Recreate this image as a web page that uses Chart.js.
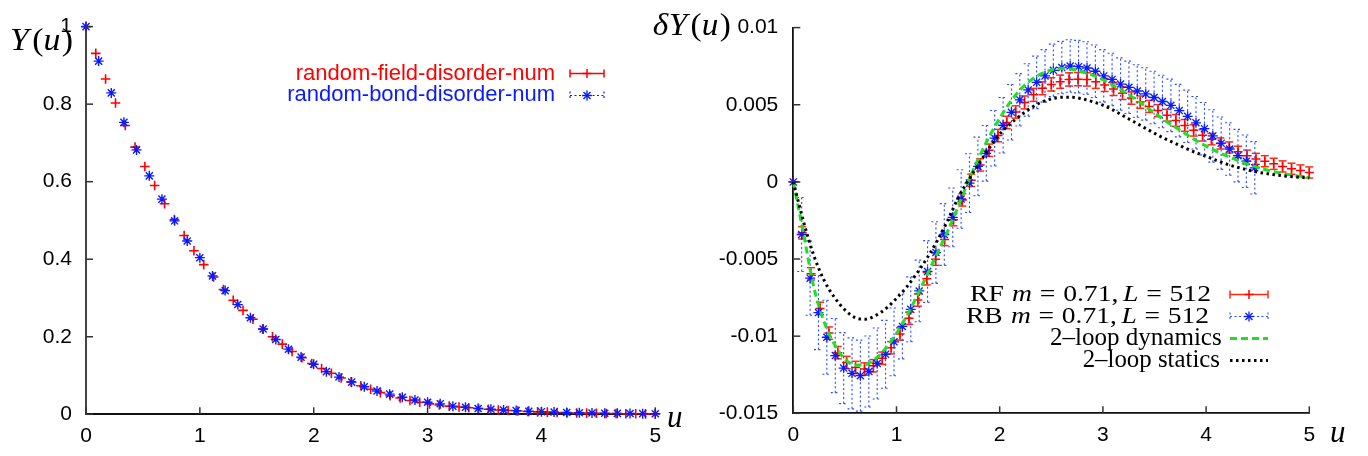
<!DOCTYPE html>
<html><head><meta charset="utf-8">
<script src="https://cdn.jsdelivr.net/npm/chart.js@4.4.1/dist/chart.umd.min.js"></script>
<style>
html,body{margin:0;padding:0;background:#fff;width:1368px;height:456px;overflow:hidden}
canvas{position:absolute;left:0;top:0}
</style></head><body>
<canvas id="cl" width="1368" height="456"></canvas>
<canvas id="cr" width="1368" height="456"></canvas>
<script>
// ---------- data ----------
const uRF = [0, 0.086, 0.172, 0.259, 0.345, 0.431, 0.517, 0.603, 0.690, 0.776,
  0.862, 0.948, 1.034, 1.121, 1.207, 1.293, 1.379, 1.466, 1.552, 1.638,
  1.724, 1.810, 1.897, 1.983, 2.069, 2.155, 2.241, 2.328, 2.414, 2.500,
  2.586, 2.672, 2.759, 2.845, 2.931, 3.017, 3.103, 3.190, 3.276, 3.362,
  3.448, 3.534, 3.621, 3.707, 3.793, 3.879, 3.966, 4.052, 4.138, 4.224,
  4.310, 4.397, 4.483, 4.569, 4.655, 4.741, 4.828, 4.914, 5.000];
const yRF = [1, 0.931, 0.865, 0.803, 0.745, 0.689, 0.639, 0.590, 0.543, 0.502,
  0.461, 0.422, 0.386, 0.354, 0.322, 0.294, 0.268, 0.245, 0.220, 0.200,
  0.181, 0.162, 0.146, 0.131, 0.118, 0.106, 0.0935, 0.0836, 0.0737, 0.0647,
  0.056, 0.048, 0.042, 0.0356, 0.031, 0.027, 0.024, 0.021, 0.019, 0.017,
  0.015, 0.013, 0.0112, 0.0097, 0.0085, 0.0073, 0.0063, 0.0055, 0.0047, 0.0041,
  0.0035, 0.0030, 0.0026, 0.0022, 0.0019, 0.0016, 0.0014, 0.0012, 0.0010];
const uRBleft = [0, 0.111, 0.222, 0.333, 0.444, 0.556, 0.667, 0.778, 0.889, 1.000,
  1.111, 1.222, 1.333, 1.444, 1.556, 1.667, 1.778, 1.889, 2.000, 2.111,
  2.222, 2.333, 2.444, 2.556, 2.667, 2.778, 2.889, 3.000, 3.111, 3.222,
  3.333, 3.444, 3.556, 3.667, 3.778, 3.889, 4.000, 4.111, 4.222, 4.333,
  4.444, 4.556, 4.667, 4.778, 4.889, 5.000];
const yRB = [1, 0.911, 0.829, 0.753, 0.682, 0.615, 0.555, 0.499, 0.447, 0.404,
  0.357, 0.319, 0.283, 0.249, 0.220, 0.193, 0.168, 0.1475, 0.129, 0.110,
  0.096, 0.083, 0.071, 0.060, 0.052, 0.044, 0.037, 0.031, 0.027, 0.021,
  0.018, 0.015, 0.013, 0.011, 0.0095, 0.0080, 0.0068, 0.0057, 0.0048, 0.0040,
  0.0034, 0.0029, 0.0024, 0.0020, 0.0017, 0.0014];

const dYRF = [0, -0.00330, -0.00596, -0.00820, -0.00980, -0.01107, -0.01171, -0.01203, -0.01213, -0.01192,
  -0.01143, -0.01075, -0.00986, -0.00884, -0.00766, -0.00628, -0.00501, -0.00373, -0.00245, -0.00117,
  0.00010, 0.00110, 0.00205, 0.00300, 0.00385, 0.00453, 0.00515, 0.00564, 0.00607, 0.00632,
  0.00649, 0.00664, 0.00666, 0.00664, 0.00649, 0.00628, 0.00602, 0.00575, 0.00543, 0.00517,
  0.00489, 0.00462, 0.00432, 0.00398, 0.00366, 0.00334, 0.00302, 0.00277, 0.00249, 0.00223,
  0.00195, 0.00170, 0.00149, 0.00134, 0.00117, 0.00100, 0.00085, 0.00074, 0.00061];
const dYRFerr = [0, 0.00040, 0.00040, 0.00040, 0.00040, 0.00040, 0.00040, 0.00040, 0.00040, 0.00040,
  0.00040, 0.00040, 0.00040, 0.00040, 0.00040, 0.00040, 0.00040, 0.00040, 0.00040, 0.00040,
  0.00040, 0.00040, 0.00040, 0.00040, 0.00040, 0.00040, 0.00042, 0.00042, 0.00042, 0.00043,
  0.00043, 0.00043, 0.00043, 0.00043, 0.00043, 0.00042, 0.00042, 0.00041, 0.00040, 0.00040,
  0.00039, 0.00039, 0.00038, 0.00038, 0.00038, 0.00037, 0.00037, 0.00037, 0.00036, 0.00036,
  0.00036, 0.00036, 0.00036, 0.00036, 0.00036, 0.00036, 0.00036, 0.00036, 0.00036];
const uRBright = [0, 0.081, 0.163, 0.244, 0.325, 0.407, 0.488, 0.569, 0.650, 0.732,
  0.813, 0.894, 0.976, 1.057, 1.138, 1.220, 1.301, 1.382, 1.463, 1.545,
  1.626, 1.707, 1.789, 1.870, 1.951, 2.033, 2.114, 2.195, 2.276, 2.358,
  2.439, 2.520, 2.602, 2.683, 2.764, 2.846, 2.927, 3.008, 3.089, 3.171,
  3.252, 3.333, 3.415, 3.496, 3.577, 3.659, 3.740, 3.821, 3.902, 3.984,
  4.065, 4.146, 4.228, 4.309, 4.390, 4.472];
const dYRB = [0, -0.00341, -0.00624, -0.00847, -0.01007, -0.01126, -0.01207, -0.01241, -0.01256, -0.01229,
  -0.01177, -0.01118, -0.01037, -0.00937, -0.00826, -0.00707, -0.00581, -0.00458, -0.00341, -0.00230,
  -0.00111, -0.00008, 0.00100, 0.00185, 0.00283, 0.00367, 0.00451, 0.00532, 0.00596, 0.00645,
  0.00687, 0.00723, 0.00741, 0.00751, 0.00747, 0.00738, 0.00717, 0.00687, 0.00664, 0.00634,
  0.00613, 0.00589, 0.00570, 0.00547, 0.00521, 0.00496, 0.00462, 0.00425, 0.00383, 0.00345,
  0.00298, 0.00251, 0.00213, 0.00170, 0.00134, 0.00091];
const dYRBerr = [0, 0.0024, 0.0024, 0.0024, 0.0024, 0.0024, 0.0023, 0.0023, 0.0023, 0.0023,
  0.0023, 0.0022, 0.0022, 0.0021, 0.0021, 0.0020, 0.0020, 0.0020, 0.0020, 0.0019,
  0.0019, 0.0019, 0.0019, 0.0018, 0.0018, 0.0018, 0.0018, 0.0017, 0.0017, 0.0017,
  0.0017, 0.0017, 0.0017, 0.0017, 0.0017, 0.0017, 0.0017, 0.0017, 0.0017, 0.0017,
  0.0017, 0.0017, 0.0017, 0.0017, 0.0017, 0.0017, 0.0017, 0.0017, 0.0017, 0.0017,
  0.0017, 0.0017, 0.0017, 0.0017, 0.0017, 0.0017];
const uTheory = [0, 0.1, 0.2, 0.3, 0.4, 0.5, 0.6, 0.7, 0.8, 0.9,
  1.0, 1.1, 1.2, 1.3, 1.4, 1.5, 1.6, 1.7, 1.8, 1.9,
  2.0, 2.1, 2.2, 2.3, 2.4, 2.5, 2.6, 2.7, 2.8, 2.9,
  3.0, 3.1, 3.2, 3.3, 3.4, 3.5, 3.6, 3.7, 3.8, 3.9,
  4.0, 4.1, 4.2, 4.3, 4.4, 4.5, 4.6, 4.7, 4.8, 4.9, 5.0];
const dYdyn = [0, -0.00340, -0.00685, -0.00910, -0.01055, -0.01150, -0.01188, -0.01185, -0.01145, -0.01075,
  -0.00982, -0.00868, -0.00738, -0.00597, -0.00455, -0.00312, -0.00155, 0.00010, 0.00160, 0.00295,
  0.00412, 0.00515, 0.00598, 0.00658, 0.00700, 0.00725, 0.00735, 0.00730, 0.00714, 0.00692,
  0.00662, 0.00625, 0.00585, 0.00543, 0.00495, 0.00447, 0.00398, 0.00355, 0.00312, 0.00270,
  0.00232, 0.00198, 0.00168, 0.00140, 0.00115, 0.00094, 0.00075, 0.00060, 0.00047, 0.00037, 0.00028];
const dYstat = [0, -0.0026, -0.0048, -0.0064, -0.0075, -0.0083, -0.0088, -0.0089, -0.00865, -0.0082,
  -0.00755, -0.0068, -0.0059, -0.0049, -0.00375, -0.00245, -0.0010, 0.00015, 0.0012, 0.0022,
  0.0031, 0.00375, 0.0043, 0.00478, 0.00515, 0.00538, 0.00548, 0.00548, 0.00538, 0.0052,
  0.00497, 0.00465, 0.00427, 0.0039, 0.00352, 0.00315, 0.0028, 0.0025, 0.00218, 0.0019,
  0.00165, 0.0014, 0.00115, 0.00095, 0.00078, 0.00063, 0.00052, 0.00043, 0.00036, 0.0003, 0.00025];

const xTicks = [0, 1, 2, 3, 4, 5];
const xTickLabels = ['0', '1', '2', '3', '4', '5'];
const yTicksL = [0, 0.2, 0.4, 0.6, 0.8, 1];
const yTickLabelsL = ['0', '0.2', '0.4', '0.6', '0.8', '1'];
const yTicksR = [-0.015, -0.01, -0.005, 0, 0.005, 0.01];
const yTickLabelsR = ['-0.015', '-0.01', '-0.005', '0', '0.005', '0.01'];
const legendLeft = ['random-field-disorder-num', 'random-bond-disorder-num'];

// ---------- helpers ----------
const SANS = '"Liberation Sans", Arial, sans-serif';
const SERIF = '"Liberation Serif", "DejaVu Serif", serif';
const RED = '#ff0000', BLUE = '#0a1aff', GREEN = '#1ee01e';

function pts(xs, ys) { return xs.map((x, i) => ({x: x, y: ys[i]})); }
function labelFor(vals, labs) {
  return v => { const i = vals.findIndex(t => Math.abs(t - v) < 1e-9); return i < 0 ? '' : labs[i]; };
}
function line(ctx, x1, y1, x2, y2) { ctx.beginPath(); ctx.moveTo(x1, y1); ctx.lineTo(x2, y2); ctx.stroke(); }
function rich(ctx, segs, x, base, size, align, targetW) {
  const parts = segs.map(s => typeof s === 'number' ? {sp: s * size} :
    {t: s[0], f: (s[1] === 'i' ? 'italic ' : '') + size + 'px ' + SERIF});
  let w = 0;
  parts.forEach(p => { if (p.t !== undefined) { ctx.font = p.f; p.w = ctx.measureText(p.t).width; w += p.w; } else w += p.sp; });
  const sx = targetW ? targetW / w : 1;
  const x0 = align === 'right' ? x - w * sx : x;
  ctx.save(); ctx.translate(x0, base); ctx.scale(sx, 1);
  ctx.fillStyle = '#000'; ctx.textBaseline = 'alphabetic'; ctx.textAlign = 'left';
  let cx = 0;
  parts.forEach(p => { if (p.t !== undefined) { ctx.font = p.f; ctx.fillText(p.t, cx, 0); cx += p.w; } else cx += p.sp; });
  ctx.restore();
}
function star(ctx, x, y, r) {
  line(ctx, x - r, y, x + r, y); line(ctx, x, y - r, x, y + r);
  const d = r * 0.7071; line(ctx, x - d, y - d, x + d, y + d); line(ctx, x - d, y + d, x + d, y - d);
}
function plus(ctx, x, y, r) { line(ctx, x - r, y, x + r, y); line(ctx, x, y - r, x, y + r); }
function inwardTicks(chart, xt, yt) {
  const ctx = chart.ctx, a = chart.chartArea, xs = chart.scales.x, ys = chart.scales.y;
  ctx.save(); ctx.strokeStyle = '#333'; ctx.lineWidth = 1.5;
  xt.forEach(v => { const px = xs.getPixelForValue(v); line(ctx, px, a.bottom, px, a.bottom - 7); });
  yt.forEach(v => { const py = ys.getPixelForValue(v); line(ctx, a.left, py, a.left + 7, py); });
  ctx.restore();
}
function fixedTicks(vals) { return s => { s.ticks = vals.map(v => ({value: v})); }; }
const tickFont = {family: SANS, size: 21};

// ---------- left chart ----------
const decorL = {
  id: 'decorL',
  afterDraw(chart) {
    const ctx = chart.ctx;
    inwardTicks(chart, xTicks, yTicksL);
    rich(ctx, [['Y', 'i'], 0.1, ['(', 'n'], ['u', 'i'], 0.04, [')', 'n']], 10, 49.5, 31, 'left', 63);
    rich(ctx, [['u', 'i']], 667, 427, 31, 'left');
    ctx.save();
    ctx.font = '22px ' + SANS; ctx.textAlign = 'right'; ctx.textBaseline = 'alphabetic';
    ctx.fillStyle = RED; ctx.fillText(legendLeft[0], 555, 79.5);
    ctx.fillStyle = BLUE; ctx.fillText(legendLeft[1], 555, 101);
    // red sample
    ctx.strokeStyle = RED; ctx.lineWidth = 1.5;
    line(ctx, 570, 73.5, 604, 73.5); line(ctx, 570, 69.5, 570, 77.5); line(ctx, 604, 69.5, 604, 77.5);
    plus(ctx, 587, 73.5, 4.5);
    // blue sample
    ctx.strokeStyle = BLUE; ctx.lineWidth = 1.2; ctx.setLineDash([2, 2.5]);
    line(ctx, 570, 95.5, 604, 95.5); line(ctx, 570, 91.5, 570, 99.5); line(ctx, 604, 91.5, 604, 99.5);
    ctx.setLineDash([]); ctx.lineWidth = 1.4; star(ctx, 587, 95.5, 5);
    ctx.restore();
  }
};

new Chart(document.getElementById('cl'), {
  type: 'scatter',
  data: {datasets: [
    {label: legendLeft[1], data: pts(uRBleft, yRB), pointStyle: 'star', pointRadius: 5, borderColor: BLUE, backgroundColor: BLUE, borderWidth: 1.4, clip: false},
    {label: legendLeft[0], data: pts(uRF, yRF), pointStyle: 'cross', pointRadius: 4.8, borderColor: RED, backgroundColor: RED, borderWidth: 1.6, clip: false}
  ]},
  options: {
    responsive: false, animation: false, events: [],
    layout: {padding: {left: 0, right: 712.7, top: 12.3, bottom: 0}},
    plugins: {legend: {display: false}, tooltip: {enabled: false}},
    scales: {
      x: {type: 'linear', min: 0, max: 5, afterFit: s => { s.height = 41.7; }, afterBuildTicks: fixedTicks(xTicks),
        ticks: {font: tickFont, color: '#000', padding: 9, maxRotation: 0, autoSkip: false, callback: labelFor(xTicks, xTickLabels)},
        grid: {display: false, drawTicks: false}, border: {display: true, color: '#111', width: 2}},
      y: {type: 'linear', min: 0, max: 1, afterFit: s => { s.width = 86; }, afterBuildTicks: fixedTicks(yTicksL),
        ticks: {font: tickFont, color: '#000', padding: 14, autoSkip: false, callback: labelFor(yTicksL, yTickLabelsL)},
        grid: {display: false, drawTicks: false}, border: {display: true, color: '#444', width: 2}}
    }
  },
  plugins: [decorL]
});

// ---------- right chart ----------
const errBars = {
  id: 'errBars',
  beforeDatasetsDraw(chart) {
    const ctx = chart.ctx, xs = chart.scales.x, ys = chart.scales.y;
    ctx.save();
    ctx.strokeStyle = '#ff2a10'; ctx.lineWidth = 1.5;
    uRF.forEach((u, i) => {
      if (!dYRFerr[i]) return;
      const px = xs.getPixelForValue(u), p1 = ys.getPixelForValue(dYRF[i] - dYRFerr[i]), p2 = ys.getPixelForValue(dYRF[i] + dYRFerr[i]);
      line(ctx, px, p1, px, p2); line(ctx, px - 4, p1, px + 4, p1); line(ctx, px - 4, p2, px + 4, p2);
    });
    ctx.strokeStyle = '#2a4cff'; ctx.lineWidth = 1.1; ctx.setLineDash([2, 2.5]);
    uRBright.forEach((u, i) => {
      if (!dYRBerr[i]) return;
      const px = xs.getPixelForValue(u), p1 = ys.getPixelForValue(dYRB[i] - dYRBerr[i]), p2 = ys.getPixelForValue(dYRB[i] + dYRBerr[i]);
      line(ctx, px, p1, px, p2); line(ctx, px - 4.5, p1, px + 4.5, p1); line(ctx, px - 4.5, p2, px + 4.5, p2);
    });
    ctx.restore();
  }
};
const decorR = {
  id: 'decorR',
  afterDraw(chart) {
    const ctx = chart.ctx;
    inwardTicks(chart, xTicks, yTicksR);
    rich(ctx, [['δ', 'i'], 0.02, ['Y', 'i'], 0.1, ['(', 'n'], ['u', 'i'], 0.04, [')', 'n']], 652.7, 35, 31, 'left', 78);
    rich(ctx, [['u', 'i']], 1330, 442, 31, 'left');
    const eq = (name) => [[name, 'n'], 0.3, ['m', 'i'], 0.28, ['=', 'n'], 0.28, ['0.71,', 'n'], 0.17, ['L', 'i'], 0.28, ['=', 'n'], 0.28, ['512', 'n']];
    rich(ctx, eq('RF'), 1211, 301, 24, 'right', 241);
    rich(ctx, eq('RB'), 1209, 323, 24, 'right', 243);
    rich(ctx, [['2–loop dynamics', 'n']], 1221.7, 345, 24.5, 'right', 171.7);
    rich(ctx, [['2–loop statics', 'n']], 1220, 367, 24.5, 'right', 137.3);
    ctx.save();
    const x1 = 1230, x2 = 1268, xm = 1249;
    ctx.strokeStyle = '#ff2a10'; ctx.lineWidth = 1.5;
    line(ctx, x1, 294.5, x2, 294.5); line(ctx, x1, 290.5, x1, 298.5); line(ctx, x2, 290.5, x2, 298.5);
    ctx.strokeStyle = RED; plus(ctx, xm, 294.5, 4.5);
    ctx.strokeStyle = '#2a4cff'; ctx.lineWidth = 1.1; ctx.setLineDash([2, 2.5]);
    line(ctx, x1, 316.5, x2, 316.5); line(ctx, x1, 312.5, x1, 320.5); line(ctx, x2, 312.5, x2, 320.5);
    ctx.setLineDash([]); ctx.strokeStyle = BLUE; ctx.lineWidth = 1.3; star(ctx, xm, 316.5, 5);
    ctx.strokeStyle = GREEN; ctx.lineWidth = 3; ctx.setLineDash([7, 4]);
    line(ctx, x1, 338.5, x2, 338.5);
    ctx.strokeStyle = '#000'; ctx.lineWidth = 3; ctx.setLineDash([2.5, 3.5]);
    line(ctx, x1, 360.5, x2, 360.5);
    ctx.restore();
  }
};

new Chart(document.getElementById('cr'), {
  type: 'scatter',
  data: {datasets: [
    {label: '2–loop statics', data: pts(uTheory, dYstat), showLine: true, pointRadius: 0, borderColor: '#000', borderWidth: 3, borderDash: [2.5, 3.5], cubicInterpolationMode: 'monotone', clip: false},
    {label: '2–loop dynamics', data: pts(uTheory, dYdyn), showLine: true, pointRadius: 0, borderColor: GREEN, borderWidth: 3, borderDash: [7, 4], cubicInterpolationMode: 'monotone', clip: false},
    {label: 'RB m = 0.71, L = 512', data: pts(uRBright, dYRB), pointStyle: 'star', pointRadius: 5, borderColor: BLUE, backgroundColor: BLUE, borderWidth: 1.3, clip: false},
    {label: 'RF m = 0.71, L = 512', data: pts(uRF, dYRF), pointStyle: 'cross', pointRadius: 4.5, borderColor: RED, backgroundColor: RED, borderWidth: 1.5, clip: false}
  ]},
  options: {
    responsive: false, animation: false, events: [],
    layout: {padding: {left: 693.3, right: 58.7, top: 22, bottom: 0}},
    plugins: {legend: {display: false}, tooltip: {enabled: false}},
    scales: {
      x: {type: 'linear', min: 0, max: 5, afterFit: s => { s.height = 42.7; }, afterBuildTicks: fixedTicks(xTicks),
        ticks: {font: tickFont, color: '#000', padding: 9, maxRotation: 0, autoSkip: false, callback: labelFor(xTicks, xTickLabels)},
        grid: {display: false, drawTicks: false}, border: {display: true, color: '#111', width: 1.8}},
      y: {type: 'linear', min: -0.015, max: 0.01, afterFit: s => { s.width = 100; }, afterBuildTicks: fixedTicks(yTicksR),
        ticks: {font: tickFont, color: '#000', padding: 15, autoSkip: false, callback: labelFor(yTicksR, yTickLabelsR)},
        grid: {display: false, drawTicks: false}, border: {display: true, color: '#111', width: 1.8}}
    }
  },
  plugins: [errBars, decorR]
});
</script>
</body></html>
